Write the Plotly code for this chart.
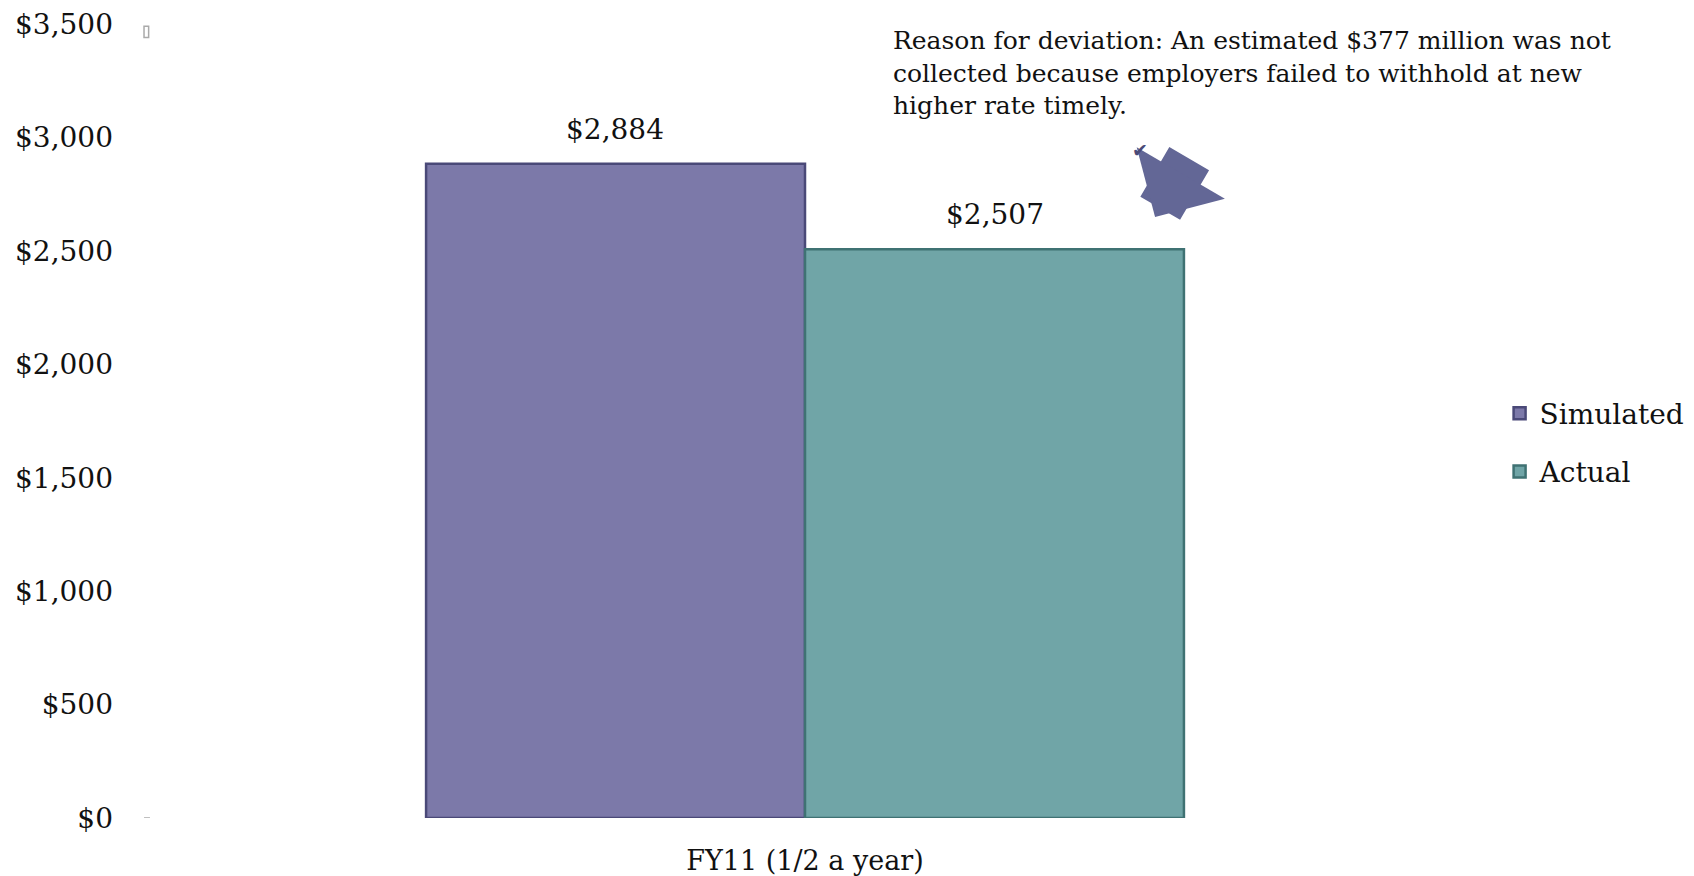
import plotly.graph_objects as go

categories = ["FY11 (1/2 a year)"]
series_names = ["Simulated", "Actual"]
simulated = [2884]
actual = [2507]
y_ticks = [0, 500, 1000, 1500, 2000, 2500, 3000, 3500]
y_tick_labels = ["$0", "$500", "$1,000", "$1,500", "$2,000", "$2,500", "$3,000", "$3,500"]
note = ("Reason for deviation: An estimated $377 million was not<br>"
        "collected because employers failed to withhold at new<br>"
        "higher rate timely.")

FONT = "DejaVu Serif"
fill_colors = ["#7c79a9", "#70a5a7"]
line_colors = ["#4a4978", "#3f7273"]

fig = go.Figure()
for name, vals, fc, lc in zip(series_names, [simulated, actual], fill_colors, line_colors):
    fig.add_trace(go.Bar(
        name=name, x=categories, y=vals, legendgroup=name,
        marker=dict(color=fc, line=dict(color=lc, width=2.5)),
        hoverinfo="y",
    ))

# value labels above bars
for shift, vals in zip([-190, 190], [simulated, actual]):
    for c, v in zip(categories, vals):
        fig.add_annotation(x=c, y=v, xref="x", yref="y", xshift=shift, yshift=16,
                           text=f"${v:,}", showarrow=False, yanchor="bottom",
                           font=dict(family=FONT, size=28, color="#111"))

# note text
fig.add_annotation(x=0.565, y=1.0, xref="paper", yref="paper", text=note,
                   showarrow=False, xanchor="left", yanchor="top", align="left",
                   font=dict(family=FONT, size=25, color="#111"))

# block arrow pointing down-left at the Actual bar
fig.add_annotation(x=0.7656, y=2649, xref="paper", yref="y", ax=35, ay=-60,
                   showarrow=True, arrowhead=1, arrowsize=0.37, arrowwidth=46,
                   arrowcolor="#636796", text="")
fig.add_annotation(x=0.762, y=0.858, xref="paper", yref="paper", text="✔",
                   showarrow=False, font=dict(size=19, color="#4a4a78"))

# small axis marks
fig.add_shape(type="line", xref="paper", yref="y", x0=-0.0015, x1=0.003, y0=0, y1=0,
              line=dict(color="#aaaaaa", width=1.5))
fig.add_shape(type="rect", xref="paper", yref="y", x0=-0.0015, x1=0.002, y0=3440, y1=3490,
              line=dict(color="#aaaaaa", width=1.5))

fig.update_layout(
    width=1694, height=876,
    margin=dict(l=138, r=238, t=16, b=66, autoexpand=False),
    paper_bgcolor="white", plot_bgcolor="white",
    barmode="group", bargap=0.425, bargroupgap=0,
    font=dict(family=FONT, size=28, color="#111"),
    showlegend=True,
    legend=dict(x=1.027, xanchor="left", y=0.473, yanchor="middle",
                tracegroupgap=19, itemwidth=30,
                font=dict(family=FONT, size=28, color="#111")),
    xaxis=dict(showline=False, showgrid=False, ticks="", ticklabelstandoff=24,
               tickfont=dict(family=FONT, size=27)),
    yaxis=dict(range=[0, 3500], tickvals=y_ticks, ticktext=y_tick_labels,
               showgrid=False, zeroline=False, showline=False, ticks="",
               ticklabelstandoff=32, ticklabeloverflow="allow",
               tickfont=dict(family=FONT, size=28)),
)

fig.write_html("out.html")
